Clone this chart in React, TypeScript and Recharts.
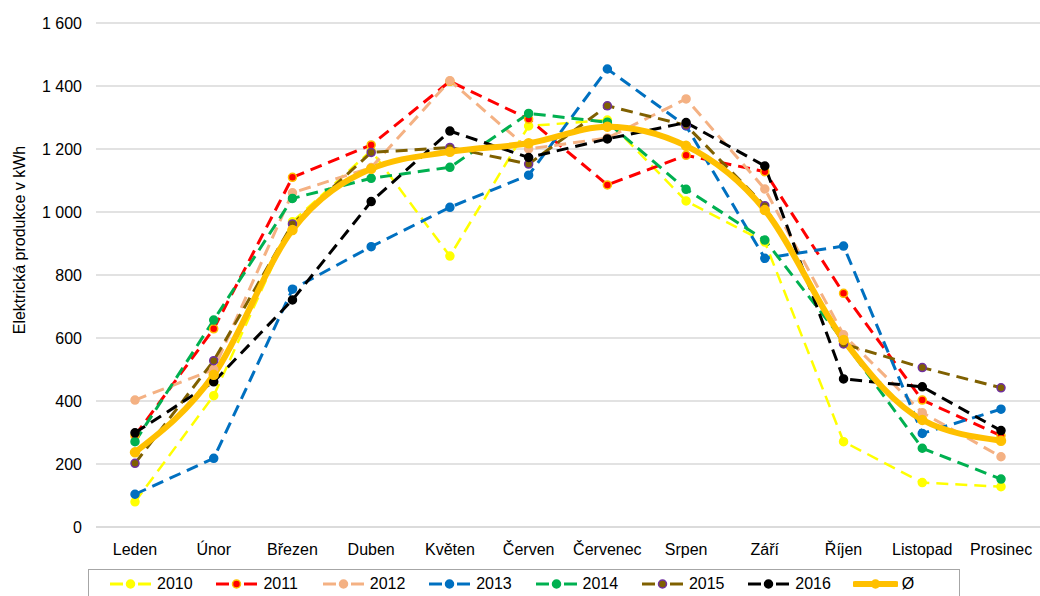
import {
  CartesianGrid,
  Label,
  Line,
  LineChart,
  XAxis,
  YAxis,
} from "recharts";

const months = [
  "Leden",
  "Únor",
  "Březen",
  "Duben",
  "Květen",
  "Červen",
  "Červenec",
  "Srpen",
  "Září",
  "Říjen",
  "Listopad",
  "Prosinec",
];

const y2010 = [80, 417, 969, 1195, 860, 1273, 1292, 1035, 905, 271, 141, 128];
const y2011 = [290, 629, 1110, 1213, 1415, 1295, 1086, 1180, 1128, 742, 403, 290];
const y2012 = [403, 500, 1061, 1141, 1417, 1200, 1235, 1359, 1073, 610, 363, 223];
const y2013 = [104, 218, 755, 890, 1015, 1117, 1454, 1273, 853, 892, 297, 374];
const y2014 = [271, 657, 1043, 1107, 1142, 1313, 1285, 1072, 911, 590, 250, 152];
const y2015 = [202, 528, 962, 1189, 1205, 1152, 1337, 1275, 1020, 581, 506, 442];
const y2016 = [299, 461, 721, 1033, 1257, 1173, 1232, 1284, 1146, 470, 445, 306];
const avg = [237, 483, 943, 1137, 1191, 1218, 1271, 1210, 1006, 594, 340, 274];

const yTicks = [0, 200, 400, 600, 800, 1000, 1200, 1400, 1600];

interface SeriesDef {
  key: string;
  name: string;
  values: number[];
  color: string;
  markerStroke: string;
  width: number;
  dashed: boolean;
}

const SERIES: SeriesDef[] = [
  { key: "s2010", name: "2010", values: y2010, color: "#FFFF00", markerStroke: "#FFFF00", width: 2.5, dashed: true },
  { key: "s2011", name: "2011", values: y2011, color: "#FF0000", markerStroke: "#FFC000", width: 3, dashed: true },
  { key: "s2012", name: "2012", values: y2012, color: "#F4B183", markerStroke: "#F4B183", width: 3, dashed: true },
  { key: "s2013", name: "2013", values: y2013, color: "#0070C0", markerStroke: "#0070C0", width: 3, dashed: true },
  { key: "s2014", name: "2014", values: y2014, color: "#00B050", markerStroke: "#00B050", width: 3, dashed: true },
  { key: "s2015", name: "2015", values: y2015, color: "#7F6000", markerStroke: "#7030A0", width: 3, dashed: true },
  { key: "s2016", name: "2016", values: y2016, color: "#000000", markerStroke: "#000000", width: 3, dashed: true },
  { key: "avg", name: "Ø", values: avg, color: "#FFC000", markerStroke: "#FFC000", width: 6, dashed: false },
];

const data = months.map((month, i) => {
  const row: Record<string, string | number> = { month };
  for (const s of SERIES) row[s.key] = s.values[i];
  return row;
});

const FONT = "'Liberation Sans', Arial, sans-serif";

const formatTick = (v: number) =>
  v >= 1000 ? `${Math.floor(v / 1000)}\u00a0${String(v % 1000).padStart(3, "0")}` : String(v);

function dotFor(fill: string, stroke: string, r = 4) {
  return (props: any) => {
    const { cx, cy, index } = props;
    if (cx == null || cy == null) return <g key={`e-${index}`} />;
    return (
      <circle
        key={`d-${index}`}
        cx={cx}
        cy={cy}
        r={r}
        fill={fill}
        stroke={stroke}
        strokeWidth={1.5}
      />
    );
  };
}

function LegendIcon({ s }: { s: SeriesDef }) {
  return (
    <svg width={45} height={16} style={{ display: "block" }}>
      {s.dashed ? (
        <>
          <line x1={2} y1={8} x2={15} y2={8} stroke={s.color} strokeWidth={3} />
          <line x1={30} y1={8} x2={43} y2={8} stroke={s.color} strokeWidth={3} />
        </>
      ) : (
        <line x1={2} y1={8} x2={43} y2={8} stroke={s.color} strokeWidth={6} strokeLinecap="round" />
      )}
      <circle cx={22.5} cy={8} r={4} fill={s.color} stroke={s.markerStroke} strokeWidth={1.5} />
    </svg>
  );
}

function ChartLegend() {
  return (
    <div
      style={{
        position: "absolute",
        left: 88,
        top: 569,
        width: 872,
        height: 40,
        border: "1px solid #A6A6A6",
        boxSizing: "border-box",
        display: "flex",
        alignItems: "flex-start",
        paddingLeft: 19,
        paddingTop: 6,
        fontFamily: FONT,
        fontSize: 16,
        color: "#000",
      }}
    >
      {SERIES.map((s) => (
        <div key={s.key} style={{ display: "flex", alignItems: "center", width: 110 }}>
          <LegendIcon s={s} />
          <span style={{ marginLeft: 4, lineHeight: "16px" }}>{s.name}</span>
        </div>
      ))}
    </div>
  );
}

export default function App() {
  return (
    <div
      style={{
        position: "absolute",
        left: 0,
        top: 0,
        width: 1040,
        height: 596,
        overflow: "hidden",
        background: "#fff",
      }}
    >
      <LineChart
        width={1040}
        height={596}
        data={data}
        margin={{ top: 23, right: 0, bottom: 39, left: 0 }}
        style={{ fontFamily: FONT }}
      >
        <CartesianGrid vertical={false} stroke="#D9D9D9" strokeWidth={1.5} />
        <XAxis
          dataKey="month"
          height={30}
          padding={{ left: 39, right: 39 }}
          axisLine={{ stroke: "#D9D9D9", strokeWidth: 1.5 }}
          tickLine={false}
          tickSize={6}
          tickMargin={11}
          interval={0}
          tick={{ fill: "#000", fontSize: 16 }}
        />
        <YAxis
          width={96}
          domain={[0, 1600]}
          ticks={yTicks}
          axisLine={false}
          tickLine={false}
          tickSize={6}
          tickMargin={8}
          tickFormatter={formatTick}
          tick={{ fill: "#000", fontSize: 16 }}
        >
          <Label
            content={() => (
              <text
                x={25}
                y={240}
                transform="rotate(-90 25 240)"
                textAnchor="middle"
                fontSize={16}
                fill="#000"
                fontFamily={FONT}
              >
                Elektrická produkce v kWh
              </text>
            )}
          />
        </YAxis>
        {SERIES.map((s) => (
          <Line
            key={s.key}
            dataKey={s.key}
            name={s.name}
            type={s.dashed ? "linear" : "monotone"}
            stroke={s.color}
            strokeWidth={s.width}
            strokeDasharray={s.dashed ? "12 7" : undefined}
            dot={dotFor(s.color, s.markerStroke, s.dashed ? 4 : 4.5)}
            activeDot={false}
            isAnimationActive={false}
          />
        ))}
      </LineChart>
      <ChartLegend />
    </div>
  );
}
